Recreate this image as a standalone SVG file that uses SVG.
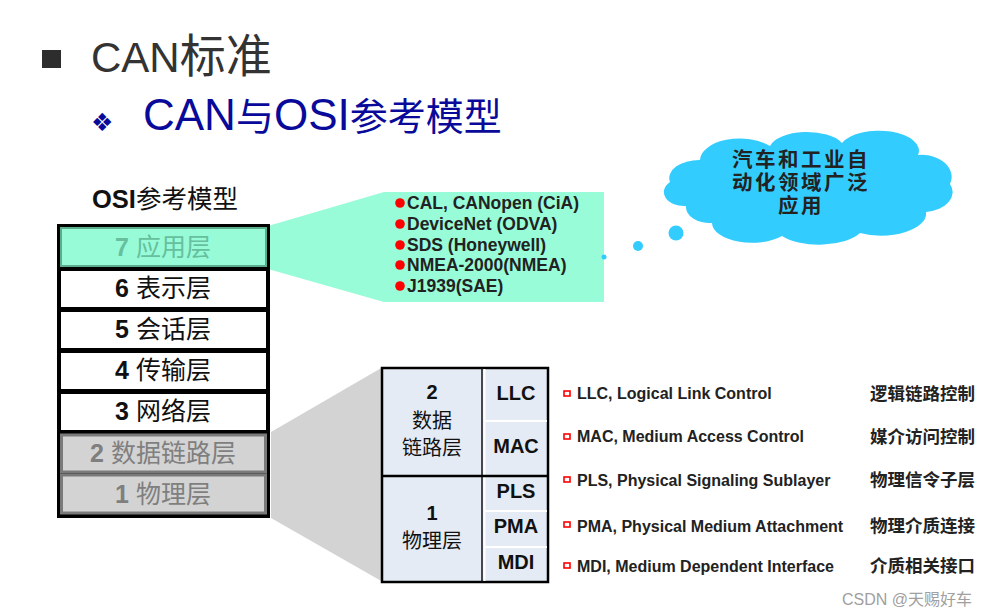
<svg xmlns="http://www.w3.org/2000/svg" width="993" height="616" viewBox="0 0 993 616">
<style>
.lat{font-family:"Liberation Sans","Noto Sans CJK SC",sans-serif}
.cjk{font-family:"Noto Sans CJK SC","Liberation Sans",sans-serif}
.mix{font-family:"Liberation Sans","Noto Sans CJK SC",sans-serif}
.b{font-weight:bold}
.lay{font-size:25px;text-anchor:middle}
.app{font-size:17.5px;font-weight:bold;fill:#222}
.sub{font-size:20px;fill:#111;text-anchor:middle}
.desc{font-size:16px;font-weight:bold;fill:#222}
.cn{font-size:17.5px;font-weight:bold;fill:#222}
.cl{font-size:20.5px;fill:#222;text-anchor:middle;font-weight:bold;letter-spacing:2.5px}
.rdot{fill:#f00}
.rsq{fill:#fff;stroke:#f00;stroke-width:1.6}
.bub{fill:#33CCFF}
</style>
<rect width="993" height="616" fill="#fff"/>

<g id="title">
  <rect x="42" y="50" width="19" height="18" fill="#2d2d2d"/>
  <text x="91" y="72" fill="#333" class="mix" font-size="42">CAN<tspan class="cjk" font-size="46">标准</tspan></text>
</g>
<g id="subtitle">
  <text x="91" y="131" fill="#0a0a9a" font-family="DejaVu Sans,sans-serif" font-size="25">❖</text>
  <text x="143" y="130" fill="#0a0a9a" class="mix" font-size="44">CAN<tspan class="cjk" font-size="38">与</tspan>OSI<tspan class="cjk" font-size="38">参考模型</tspan></text>
</g>

<g id="connectors">
  <polygon points="268,226 384,192 384,302 268,269" fill="#98FCD8"/>
  <polygon points="271,432 383,367 383,582 271,518" fill="#D3D3D3"/>
</g>

<g id="osi-label">
  <text x="92" y="208" class="mix b" font-size="25.5" fill="#111">OSI<tspan class="cjk" font-weight="normal">参考模型</tspan></text>
</g>

<g id="osi-stack">
  <rect x="57" y="224" width="213" height="294" fill="#000"/>
  <g id="layer7">
    <rect x="61" y="228" width="205" height="38" fill="#97FBD8" stroke="#5aae8e" stroke-width="2"/>
    <text x="163" y="256" class="mix lay" fill="#66bf9d"><tspan class="b">7</tspan> 应用层</text>
  </g>
  <g id="layer6">
    <rect x="61" y="271" width="205" height="36" fill="#fff"/>
    <text x="163" y="297" class="mix lay" fill="#111"><tspan class="b">6</tspan> 表示层</text>
  </g>
  <g id="layer5">
    <rect x="61" y="312" width="205" height="36" fill="#fff"/>
    <text x="163" y="338" class="mix lay" fill="#111"><tspan class="b">5</tspan> 会话层</text>
  </g>
  <g id="layer4">
    <rect x="61" y="353" width="205" height="36" fill="#fff"/>
    <text x="163" y="379" class="mix lay" fill="#111"><tspan class="b">4</tspan> 传输层</text>
  </g>
  <g id="layer3">
    <rect x="61" y="394" width="205" height="36" fill="#fff"/>
    <text x="163" y="420" class="mix lay" fill="#111"><tspan class="b">3</tspan> 网络层</text>
  </g>
  <g id="layer2">
    <rect x="61.5" y="435" width="204" height="37" fill="#D3D3D3" stroke="#7a7a7a" stroke-width="3"/>
    <text x="163" y="462" class="mix lay" fill="#7f7f7f"><tspan class="b">2</tspan> 数据链路层</text>
  </g>
  <g id="layer1">
    <rect x="61.5" y="475" width="204" height="38" fill="#D3D3D3" stroke="#7a7a7a" stroke-width="3"/>
    <text x="163" y="503" class="mix lay" fill="#7f7f7f"><tspan class="b">1</tspan> 物理层</text>
  </g>
</g>

<g id="app-protocols">
  <rect x="384" y="192" width="220" height="110" fill="#98FCD8"/>
  <circle cx="400" cy="203" r="4.8" class="rdot"/>
  <circle cx="400" cy="224" r="4.8" class="rdot"/>
  <circle cx="400" cy="245" r="4.8" class="rdot"/>
  <circle cx="400" cy="265" r="4.8" class="rdot"/>
  <circle cx="400" cy="286" r="4.8" class="rdot"/>
  <text x="407" y="209" class="lat app">CAL, CANopen (CiA)</text>
  <text x="407" y="230" class="lat app">DeviceNet (ODVA)</text>
  <text x="407" y="251" class="lat app">SDS (Honeywell)</text>
  <text x="407" y="271" class="lat app">NMEA-2000(NMEA)</text>
  <text x="407" y="292" class="lat app">J1939(SAE)</text>
</g>

<g id="cloud">
  <circle cx="604" cy="257" r="2.5" class="bub"/>
  <circle cx="638" cy="246" r="5" class="bub"/>
  <circle cx="676" cy="233" r="7.5" class="bub"/>
  <path class="bub" d="M 670,182 A 30,18 0 0 1 700,160 A 40,22 0 0 1 770,146 A 38,18 0 0 1 842,143 A 40,20 0 0 1 918,155 A 30,22 0 0 1 950,184 A 30,20 0 0 1 926,212 A 45,22 0 0 1 860,233 A 45,20 0 0 1 782,236 A 40,20 0 0 1 712,223 A 24,16 0 0 1 686,206 A 20,14 0 0 1 670,182 Z"/>
  <text x="801" y="167" class="mix cl">汽车和工业自</text>
  <text x="801" y="190" class="mix cl">动化领域广泛</text>
  <text x="801" y="213" class="mix cl">应用</text>
</g>

<g id="can-layers">
  <rect x="382" y="368" width="166" height="214" fill="#E4EBF5" stroke="#000" stroke-width="2.5"/>
  <line x1="482" y1="368" x2="482" y2="582" stroke="#111" stroke-width="1.5"/>
  <line x1="484.5" y1="369" x2="484.5" y2="581" stroke="#fff" stroke-width="2"/>
  <line x1="382" y1="476" x2="548" y2="476" stroke="#000" stroke-width="2.5"/>
  <line x1="485" y1="421" x2="547" y2="421" stroke="#fff" stroke-width="2"/>
  <line x1="485" y1="511" x2="547" y2="511" stroke="#fff" stroke-width="2"/>
  <line x1="485" y1="547" x2="547" y2="547" stroke="#fff" stroke-width="2"/>
  <text x="432" y="399" class="lat b sub">2</text>
  <text x="432" y="428" class="cjk sub">数据</text>
  <text x="432" y="455" class="cjk sub">链路层</text>
  <text x="432" y="520" class="lat b sub">1</text>
  <text x="432" y="548" class="cjk sub">物理层</text>
  <text x="516" y="400" class="lat b sub">LLC</text>
  <text x="516" y="453" class="lat b sub">MAC</text>
  <text x="516" y="498" class="lat b sub">PLS</text>
  <text x="516" y="533" class="lat b sub">PMA</text>
  <text x="516" y="569" class="lat b sub">MDI</text>
</g>

<g id="sublayer-list">
  <rect x="564" y="391" width="6" height="5" class="rsq"/>
  <rect x="564" y="434" width="6" height="5" class="rsq"/>
  <rect x="564" y="477" width="6" height="5" class="rsq"/>
  <rect x="564" y="522" width="6" height="5" class="rsq"/>
  <rect x="564" y="563" width="6" height="5" class="rsq"/>
  <text x="577" y="399" class="lat desc">LLC, Logical Link Control</text>
  <text x="577" y="442" class="lat desc">MAC, Medium Access Control</text>
  <text x="577" y="486" class="lat desc">PLS, Physical Signaling Sublayer</text>
  <text x="577" y="532" class="lat desc">PMA, Physical Medium Attachment</text>
  <text x="577" y="572" class="lat desc">MDI, Medium Dependent Interface</text>
  <text x="870" y="400" class="cjk cn">逻辑链路控制</text>
  <text x="870" y="443" class="cjk cn">媒介访问控制</text>
  <text x="870" y="486" class="cjk cn">物理信令子层</text>
  <text x="870" y="532" class="cjk cn">物理介质连接</text>
  <text x="870" y="572" class="cjk cn">介质相关接口</text>
</g>

<g id="watermark">
  <text x="842" y="605" class="mix" font-size="16" fill="#a0a0a0">CSDN @天赐好车</text>
</g>
</svg>
